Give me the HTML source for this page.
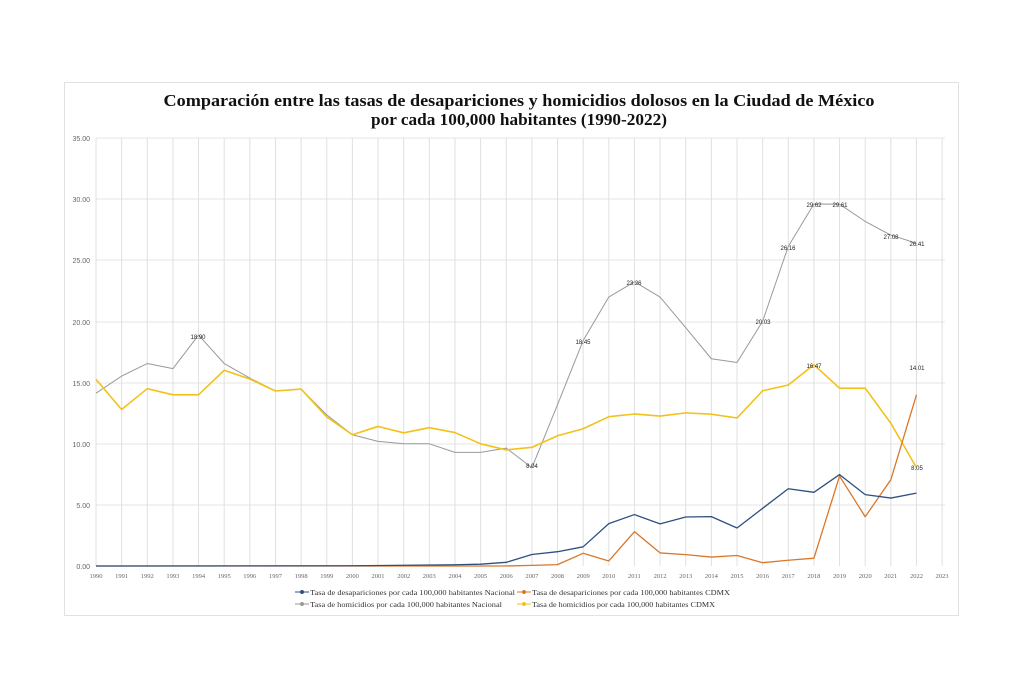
<!DOCTYPE html>
<html><head><meta charset="utf-8"><style>
body{margin:0;background:#fff;}
svg{display:block;font-family:"Liberation Serif",serif;}
</style></head><body>
<svg width="1024" height="683" viewBox="0 0 1024 683" xmlns="http://www.w3.org/2000/svg">
<rect x="0" y="0" width="1024" height="683" fill="#fff"/>
<rect x="64.5" y="82.5" width="894" height="533" fill="#fff" stroke="#e2e2e2"/>
<text x="519" y="106" text-anchor="middle" font-size="17" font-weight="bold" textLength="711" lengthAdjust="spacingAndGlyphs" fill="#111">Comparación entre las tasas de desapariciones y homicidios dolosos en la Ciudad de México</text>
<text x="519" y="125" text-anchor="middle" font-size="17" font-weight="bold" textLength="296" lengthAdjust="spacingAndGlyphs" fill="#111">por cada 100,000 habitantes (1990-2022)</text>
<g stroke="#e4e4e4" stroke-width="1">
<line x1="96" x2="945" y1="138" y2="138"/><line x1="96" x2="945" y1="199" y2="199"/><line x1="96" x2="945" y1="260" y2="260"/><line x1="96" x2="945" y1="322" y2="322"/><line x1="96" x2="945" y1="383" y2="383"/><line x1="96" x2="945" y1="444" y2="444"/><line x1="96" x2="945" y1="505" y2="505"/>
</g>
<g transform="translate(96,0) scale(25.64,1)" stroke="#e0e0e0">
<path vector-effect="non-scaling-stroke" d="M0,138V566M1,138V566M2,138V566M3,138V566M4,138V566M5,138V566M6,138V566M7,138V566M8,138V566M9,138V566M10,138V566M11,138V566M12,138V566M13,138V566M14,138V566M15,138V566M16,138V566M17,138V566M18,138V566M19,138V566M20,138V566M21,138V566M22,138V566M23,138V566M24,138V566M25,138V566M26,138V566M27,138V566M28,138V566M29,138V566M30,138V566M31,138V566M32,138V566M33,138V566"/>
</g>
<g font-size="7" fill="#666" text-anchor="end" font-family="Liberation Sans, sans-serif">
<text x="90" y="141">35.00</text><text x="90" y="202">30.00</text><text x="90" y="263">25.00</text><text x="90" y="325">20.00</text><text x="90" y="386">15.00</text><text x="90" y="447">10.00</text><text x="90" y="508">5.00</text><text x="90" y="569">0.00</text>
</g>
<g font-size="6.5" fill="#666" text-anchor="middle">
<text x="96" y="578">1990</text><text x="121.6" y="578">1991</text><text x="147.3" y="578">1992</text><text x="172.9" y="578">1993</text><text x="198.6" y="578">1994</text><text x="224.2" y="578">1995</text><text x="249.8" y="578">1996</text><text x="275.5" y="578">1997</text><text x="301.1" y="578">1998</text><text x="326.8" y="578">1999</text><text x="352.4" y="578">2000</text><text x="378" y="578">2001</text><text x="403.7" y="578">2002</text><text x="429.3" y="578">2003</text><text x="455" y="578">2004</text><text x="480.6" y="578">2005</text><text x="506.2" y="578">2006</text><text x="531.9" y="578">2007</text><text x="557.5" y="578">2008</text><text x="583.2" y="578">2009</text><text x="608.8" y="578">2010</text><text x="634.4" y="578">2011</text><text x="660.1" y="578">2012</text><text x="685.7" y="578">2013</text><text x="711.4" y="578">2014</text><text x="737" y="578">2015</text><text x="762.6" y="578">2016</text><text x="788.3" y="578">2017</text><text x="813.9" y="578">2018</text><text x="839.6" y="578">2019</text><text x="865.2" y="578">2020</text><text x="890.8" y="578">2021</text><text x="916.5" y="578">2022</text><text x="942" y="578">2023</text>
</g>
<g transform="translate(96,566) scale(25.64,-12.22)" fill="none" stroke-width="1.3" stroke-linejoin="round">
<polyline vector-effect="non-scaling-stroke" stroke="#999" stroke-width="1" points="0,14.14 1,15.54 2,16.57 3,16.15 4,18.9 5,16.57 6,15.38 7,14.32 8,14.48 9,12.37 10,10.74 11,10.2 12,10.0 13,10.0 14,9.3 15,9.3 16,9.65 17,8.04 18,13.2 19,18.45 20,22.01 21,23.26 22,22.01 23,19.5 24,16.96 25,16.65 26,20.03 27,26.16 28,29.62 29,29.61 30,28.2 31,27.08 32,26.41"/>
<polyline vector-effect="non-scaling-stroke" stroke="#f2c21a" stroke-width="1.6" points="0,15.27 1,12.81 2,14.51 3,14.01 4,14.01 5,16.02 6,15.3 7,14.32 8,14.48 9,12.2 10,10.74 11,11.42 12,10.9 13,11.32 14,10.92 15,10.0 16,9.5 17,9.71 18,10.66 19,11.23 20,12.22 21,12.44 22,12.27 23,12.53 24,12.42 25,12.11 26,14.34 27,14.81 28,16.47 29,14.55 30,14.55 31,11.68 32,8.05"/>
<polyline vector-effect="non-scaling-stroke" stroke="#d9772b" points="0,0 16,0 17,0.05 18,0.11 19,1.04 20,0.41 21,2.81 22,1.07 23,0.93 24,0.73 25,0.86 26,0.27 27,0.47 28,0.64 29,7.36 30,4.03 31,7.06 32,14.01"/>
<polyline vector-effect="non-scaling-stroke" stroke="#2f4f7f" points="0,0 10,0.02 14,0.1 15,0.15 16,0.3 17,0.94 18,1.17 19,1.57 20,3.47 21,4.21 22,3.45 23,4.01 24,4.04 25,3.11 26,4.72 27,6.32 28,6.03 29,7.48 30,5.84 31,5.56 32,5.96"/>
</g>
<g font-size="6" fill="#222" font-family="Liberation Sans, sans-serif" text-anchor="middle">
<text x="634" y="285">23.26</text><text x="814" y="207">29.62</text><text x="840" y="207">29.61</text><text x="891" y="239">27.08</text><text x="917" y="246">26.41</text><text x="788" y="250">26.16</text><text x="763" y="324">20.03</text><text x="583" y="344">18.45</text><text x="198" y="339">18.90</text><text x="814" y="368">16.47</text><text x="917" y="370">14.01</text><text x="917" y="470">8.05</text><text x="532" y="468">8.04</text>
</g>
<g font-size="7.5" fill="#333">
<line x1="295" x2="309" y1="592" y2="592" stroke="#2f4f7f"/><circle cx="302" cy="592" r="2" fill="#2f4f7f"/>
<text x="310" y="595" textLength="205" lengthAdjust="spacingAndGlyphs">Tasa de desapariciones por cada 100,000 habitantes Nacional</text>
<line x1="517" x2="531" y1="592" y2="592" stroke="#d9772b"/><circle cx="524" cy="592" r="2" fill="#d9772b"/>
<text x="532" y="595" textLength="198" lengthAdjust="spacingAndGlyphs">Tasa de desapariciones por cada 100,000 habitantes CDMX</text>
<line x1="295" x2="309" y1="604" y2="604" stroke="#999"/><circle cx="302" cy="604" r="2" fill="#999"/>
<text x="310" y="607" textLength="192" lengthAdjust="spacingAndGlyphs">Tasa de homicidios por cada 100,000 habitantes Nacional</text>
<line x1="517" x2="531" y1="604" y2="604" stroke="#f2c21a"/><circle cx="524" cy="604" r="2" fill="#f2c21a"/>
<text x="532" y="607" textLength="183" lengthAdjust="spacingAndGlyphs">Tasa de homicidios por cada 100,000 habitantes CDMX</text>
</g>
</svg>
</body></html>
